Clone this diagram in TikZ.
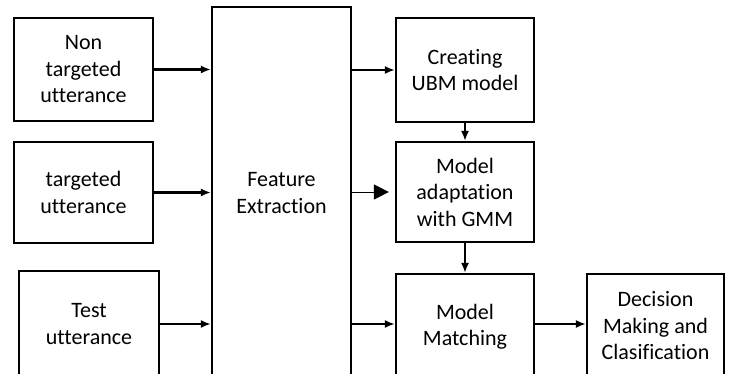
\documentclass[tikz,border=0pt]{standalone}
\usepackage{fontspec}
\setmainfont{Carlito}[Ligatures=CommonOff]
\usetikzlibrary{arrows.meta}

\begin{document}
\begin{tikzpicture}[x=1pt,y=-1pt,>={Latex[length=10pt,width=8pt]},
 box/.style={draw,line width=2.2pt,align=center,inner sep=0pt,font=\fontsize{22}{26.5}\selectfont},
 flow/.style={->,line width=2.2pt}]
\useasboundingbox (0,0) rectangle (730,374);
\clip (0,0) rectangle (730,374);
\node[box,minimum width=139,minimum height=103] (non) at (83.5,69.5) {Non\\targeted\\utterance};
\node[box,minimum width=139,minimum height=101] (tgt) at (83.5,192.5) {targeted\\utterance};
\node[box,minimum width=140,minimum height=106] (test) at (89,324) {Test\\utterance};
\node[box,minimum width=139,minimum height=372] (fe) at (281.5,193) {Feature\\Extraction};
\node[box,minimum width=138,minimum height=104] (ubm) at (465,70) {Creating\\UBM model};
\node[box,minimum width=138,minimum height=100] (adapt) at (465,192) {Model\\adaptation\\with GMM};
\node[box,minimum width=138,minimum height=106] (match) at (465,327) {Model\\Matching};
\node[box,minimum width=137,minimum height=104] (dec) at (655.5,326) {Decision\\Making and\\Clasification};
\draw[flow] (non) -- (non -| fe.west);
\draw[flow] (tgt) -- (tgt -| fe.west);
\draw[flow] (test) -- (test -| fe.west);
\draw[flow] (fe.east |- ubm) -- (ubm);
\draw[->,line width=1pt,>={Triangle[length=15pt,width=15pt]},shorten >=6pt] (fe.east |- adapt) -- (adapt);
\draw[flow] (fe.east |- test) -- (match.west |- test);
\draw[flow] (match.east |- test) -- (dec.west |- test);
\draw[flow] (ubm) -- (adapt);
\draw[flow] (adapt) -- (match);
\end{tikzpicture}
\end{document}
